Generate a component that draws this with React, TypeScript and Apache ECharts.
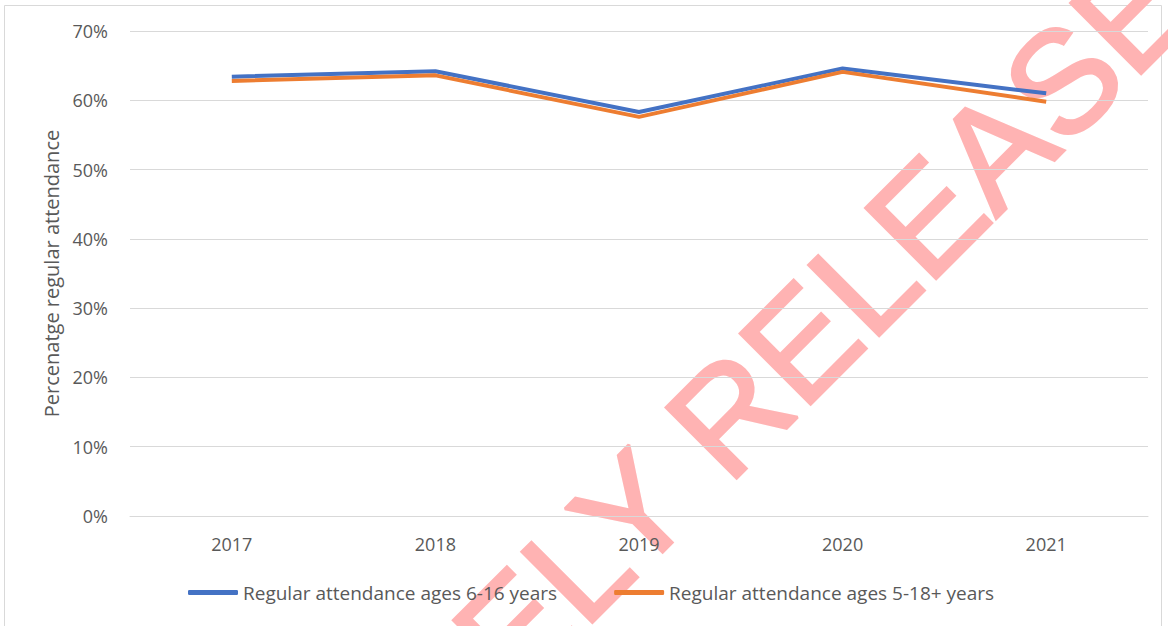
import React, { useEffect, useRef } from "react";
import * as echarts from "echarts";

const years = ["2017", "2018", "2019", "2020", "2021"];
const ages6to16 = [0.634, 0.642, 0.583, 0.646, 0.61];
const ages5to18 = [0.628, 0.636, 0.576, 0.641, 0.598];
const seriesNames = [
  "Regular attendance ages 6-16 years",
  "Regular attendance ages 5-18+ years",
];
const yTitle = "Percenatge regular attendance";
const watermark = "PROACTIVELY RELEASED";

export default function App() {
  const ref = useRef<HTMLDivElement>(null);
  useEffect(() => {
    if (!ref.current) return;
    const chart = echarts.init(ref.current, undefined, { renderer: "svg" });
    const font = "'Open Sans', sans-serif";
    chart.setOption({
      animation: false,
      backgroundColor: "#ffffff",
      textStyle: { fontFamily: font },
      grid: { left: 130, right: 20, top: 31, bottom: 110 },
      legend: {
        left: 183,
        top: 578,
        itemWidth: 50,
        itemHeight: 5,
        itemGap: 57,
        icon: "roundRect",
        textStyle: { fontSize: 19, color: "#595959", fontFamily: font },
        data: seriesNames,
      },
      xAxis: {
        type: "category",
        data: years,
        boundaryGap: true,
        axisLine: { lineStyle: { color: "#d9d9d9", width: 1 } },
        axisTick: { show: false },
        axisLabel: { fontSize: 18, color: "#595959", margin: 19, fontFamily: font },
      },
      yAxis: {
        type: "value",
        min: 0,
        max: 0.7,
        interval: 0.1,
        name: yTitle,
        nameLocation: "middle",
        nameGap: 68,
        nameTextStyle: { fontSize: 20, color: "#595959", fontFamily: font },
        axisLine: { show: false },
        axisTick: { show: false },
        splitLine: { lineStyle: { color: "#d9d9d9", width: 1 } },
        axisLabel: {
          fontSize: 18,
          color: "#595959",
          margin: 22,
          fontFamily: font,
          formatter: (v: number) => Math.round(v * 100) + "%",
        },
      },
      series: [
        {
          name: seriesNames[0],
          type: "line",
          data: ages6to16,
          symbol: "none",
          itemStyle: { color: "#4472C4" },
          lineStyle: { color: "#4472C4", width: 4 },
        },
        {
          name: seriesNames[1],
          type: "line",
          data: ages5to18,
          symbol: "none",
          itemStyle: { color: "#ED7D31" },
          lineStyle: { color: "#ED7D31", width: 4 },
        },
      ],
      graphic: [
        {
          type: "rect",
          shape: { x: 4.5, y: 5.5, width: 1157, height: 640 },
          style: { fill: "none", stroke: "#d9d9d9", lineWidth: 1 },
          silent: true,
          z: -2,
        },
        {
          type: "text",
          x: 598,
          y: 546,
          rotation: Math.PI / 4,
          z: -1,
          silent: true,
          style: {
            text: watermark,
            fontSize: 145,
            fontFamily: "'Liberation Sans', Arial, sans-serif",
            fill: "#ffb3b3",
            stroke: "#ffb3b3",
            lineWidth: 3,
            textAlign: "center",
            textVerticalAlign: "middle",
          },
        },
      ],
    });
    return () => chart.dispose();
  }, []);
  return (
    <div
      ref={ref}
      style={{ position: "fixed", left: 0, top: 0, width: 1168, height: 626 }}
    />
  );
}
